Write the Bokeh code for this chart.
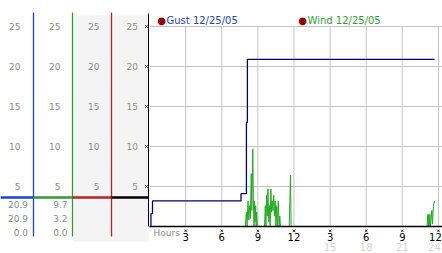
from bokeh.plotting import figure
from bokeh.layouts import row
from bokeh.models import Range1d, FixedTicker, Grid, Label, Span
from bokeh.core.properties import value
from bokeh.embed import file_html
from bokeh.resources import INLINE

# ---------------- data ----------------
gust_hours = [0.0, 0.12, 0.25, 7.6, 8.05, 8.13, 23.67]
gust_values = [0.0, 1.6, 3.2, 4.1, 13.0, 20.9, 20.9]

wind_hours = [0.0, 7.95, 8.05, 8.1, 8.18, 8.25, 8.32, 8.38, 8.45, 8.5, 8.58, 8.63, 8.68,
              8.72, 8.77, 8.82, 8.86, 8.9, 8.95,
              9.55, 9.62, 9.67, 9.72, 9.78, 9.84, 9.9, 9.96, 10.02, 10.08, 10.14, 10.2,
              10.26, 10.32, 10.38, 10.44, 10.5, 10.56, 10.62, 10.7, 10.76, 10.82, 10.88,
              11.6, 11.66, 11.71, 11.76,
              23.05, 23.12, 23.16, 23.2, 23.24, 23.29, 23.33, 23.45, 23.5, 23.58, 23.67]
wind_values = [0.0, 0.0, 1.8, 0.0, 3.2, 0.8, 2.6, 1.0, 6.6, 2.0, 9.7, 3.2, 0.0,
               3.2, 0.6, 2.6, 0.0, 1.8, 0.0,
               0.0, 2.6, 0.0, 3.9, 1.3, 4.7, 0.6, 2.6, 0.0, 4.7, 1.8, 3.2,
               2.0, 3.9, 1.3, 3.2, 0.0, 2.6, 0.0, 3.2, 0.0, 1.3, 0.0,
               0.0, 3.2, 6.4, 0.0,
               0.0, 1.5, 0.0, 1.5, 0.0, 1.5, 0.0, 2.0, 0.3, 2.5, 3.2]

y_ticks = [5, 10, 15, 20, 25]
y_tick_labels = ["5", "10", "15", "20", "25"]
hour_ticks = [3, 6, 9, 12, 15, 18, 21, 24]
hour_labels = ["3", "6", "9", "12", "3", "6", "9", "12"]
late_ticks = [15, 18, 21, 24]
late_labels = ["15", "18", "21", "24"]
gust_stats = ["20.9", "20.9", "0.0"]
wind_stats = ["9.7", "3.2", "0.0"]
series_names = ["Gust 12/25/05", "Wind 12/25/05"]
x_title = "Hours"

# ---------------- styles / layout ----------------
FONT = "DejaVu Sans"
GRAY_TXT = "#8c8c8c"
BLUE = "#1c44d4"
GREEN = "#2e9e2e"
RED = "#b82222"
LEGEND_BLUE = "#2244bb"
GUST_COLOR = "#000080"
WIND_COLOR = "#22aa22"
GRID = "#c4c4c4"

H = 253
LEFT_W = 149
MAIN_W = 442 - LEFT_W
PX_PER_UNIT = 8.0
ZERO_PX = 226.0
PX_PER_HOUR = 12.04
TOP_VAL = 26.625          # top of the value axis line

shared_y = Range1d(-(H - ZERO_PX) / PX_PER_UNIT, ZERO_PX / PX_PER_UNIT)

# ---------------- left panel ----------------
left = figure(width=LEFT_W, height=H, x_range=Range1d(0, LEFT_W), y_range=shared_y,
              min_border=0, toolbar_location=None, output_backend="svg",
              x_axis_location=None, y_axis_location=None, outline_line_color=None)
left.xgrid.visible = False
left.ygrid.visible = False

left.quad(left=[73], right=[149], top=[26.4], bottom=[-1.9],
          fill_color="#f4f4f4", line_color=None)

left.segment(x0=[33, 72, 111], x1=[33, 72, 111], y0=26.75, y1=-1.25,
             line_color=[BLUE, GREEN, RED], line_width=1.3)
left.segment(x0=[148.3], x1=[148.3], y0=0, y1=TOP_VAL, line_color="black", line_width=1.6)

left.segment(x0=[0, 33, 72, 111], x1=[33, 72, 111, 149], y0=3.625, y1=3.625,
             line_color=[BLUE, GREEN, RED, "black"], line_width=2.5)

for right_edge in [20, 60, 99, 137.5]:
    left.text(x=[right_edge] * len(y_ticks), y=y_ticks, text=y_tick_labels,
              text_align="right", text_baseline="middle", text_color=GRAY_TXT,
              text_font=value(FONT), text_font_size="9px")

left.scatter(x=[146] * len(y_ticks), y=y_ticks, marker="x", size=4,
             line_color="#333333", line_width=1)

stat_rows_y = [2.75, 1.0, -0.75]
left.text(x=[27.5] * 3, y=stat_rows_y, text=gust_stats, text_align="right",
          text_baseline="middle", text_color=GRAY_TXT, text_font=value(FONT),
          text_font_size="9px")
left.text(x=[67] * 3, y=stat_rows_y, text=wind_stats, text_align="right",
          text_baseline="middle", text_color=GRAY_TXT, text_font=value(FONT),
          text_font_size="9px")

# ---------------- main chart ----------------
p = figure(width=MAIN_W, height=H, x_range=Range1d(0, MAIN_W / PX_PER_HOUR),
           y_range=shared_y, min_border=0,
           toolbar_location=None, output_backend="svg",
           x_axis_location=None, y_axis_location=None, outline_line_color=None)
p.xgrid.visible = False
p.ygrid.visible = False

p.add_layout(Grid(dimension=1, ticker=FixedTicker(ticks=y_ticks),
                  grid_line_color=GRID, grid_line_width=1), "center")
p.segment(x0=hour_ticks, x1=hour_ticks, y0=0, y1=max(y_ticks),
          line_color=GRID, line_width=1)

# x axis (line, tick marks, labels)
p.add_layout(Span(location=0, dimension="width", line_color="black", line_width=1.5))
p.scatter(x=hour_ticks, y=[-0.55] * len(hour_ticks), marker="x", size=3.5,
          line_color="#333333", line_width=1)
end_shift = [0] * (len(hour_ticks) - 1) + [-3]
p.text(x=hour_ticks, y=[0] * len(hour_ticks), text=hour_labels, x_offset=end_shift,
       y_offset=10.5, text_align="center", text_baseline="middle", text_color="black",
       text_font=value(FONT), text_font_size="10px")
p.text(x=late_ticks, y=[0] * len(late_ticks), text=late_labels,
       x_offset=[0] * (len(late_ticks) - 1) + [-4],
       y_offset=20.5, text_align="center", text_baseline="middle", text_color="#d2d2d2",
       text_font=value(FONT), text_font_size="10px")
p.text(x=[0], y=[0], text=[x_title], x_offset=4, y_offset=6.5, text_align="left",
       text_baseline="middle", text_color=GRAY_TXT, text_font=value(FONT),
       text_font_size="9px")

p.line(x=wind_hours, y=wind_values, line_color=WIND_COLOR, line_width=1)
p.step(x=gust_hours, y=gust_values, mode="after", line_color=GUST_COLOR, line_width=1.3)

# legend
for sx, name, col in [(12, series_names[0], LEGEND_BLUE), (153, series_names[1], GREEN)]:
    p.add_layout(Label(x=sx, y=H - 20, x_units="screen", y_units="screen", text="\u25cf",
                       text_align="center", text_baseline="middle", text_color="#990000",
                       text_font=FONT, text_font_size="10px"))
    p.add_layout(Label(x=sx + 5, y=H - 20, x_units="screen", y_units="screen", text=name,
                       text_align="left", text_baseline="middle", text_color=col,
                       text_font=FONT, text_font_size="10px"))

layout = row(left, p)
open("out.html", "w").write(file_html(layout, INLINE))
